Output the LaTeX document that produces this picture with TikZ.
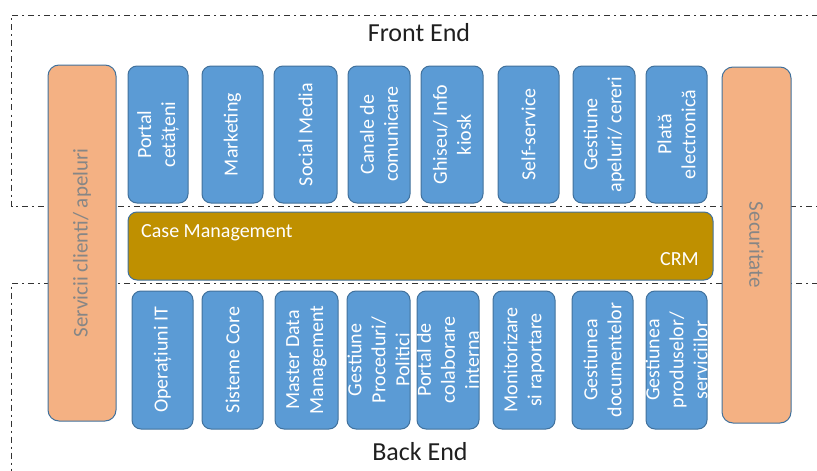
\documentclass[tikz,border=0pt]{standalone}
\usepackage{fontspec}
\setmainfont{Carlito}
\definecolor{bfill}{HTML}{5B9BD5}
\definecolor{bline}{HTML}{41719C}
\definecolor{ofill}{HTML}{F4B183}
\definecolor{crmfill}{HTML}{BF9000}
\definecolor{otext}{HTML}{868686}
\definecolor{ttext}{HTML}{1F1F1F}
\tikzset{
  bluebox/.style={draw=bline, fill=bfill, line width=1pt, rounded corners=9pt, inner sep=0pt},
  orangebox/.style={draw=bline, fill=ofill, line width=1pt, rounded corners=11pt, inner sep=0pt},
  crmbox/.style={draw=bline, fill=crmfill, line width=1pt, rounded corners=9pt, inner sep=0pt},
  bluebox text/.style={text=white, align=center, inner sep=0pt, font=\fontsize{20}{24}\selectfont},
  orangebox text/.style={text=otext, align=center, inner sep=0pt, font=\fontsize{21}{25}\selectfont},
  title/.style={text=ttext, inner sep=0pt, font=\fontsize{26}{30}\selectfont},
  zone/.style={line width=1pt, draw=black!80, dash pattern=on 6pt off 4pt on 2pt off 4pt},
}
% name, x1, y1, x2, y2, style, rotation, text
\newcommand{\mybox}[8]{%
  \node[#6, minimum width={(#4)-(#2)}, minimum height={(#5)-(#3)}] (#1) at ({((#2)+(#4))/2},{((#3)+(#5))/2}) {};
  \node[#6 text, rotate=#7] (#1t) at (#1.center) {#8};
}
\begin{document}
\begin{tikzpicture}[x=1pt,y=-1pt]
\useasboundingbox (0,0) rectangle (817,471);
% zones
\draw[zone] (818,15) -- (11.5,15) -- (11.5,206) -- (818,206);
\draw[zone] (818,283) -- (11.5,283) -- (11.5,472);
\node[title] (front) at (419,33) {Front End};
\node[title] (back) at (420,452) {Back End};
% side boxes
\mybox{serv}{48}{65}{116}{421}{orangebox}{90}{Servicii clienti/ apeluri}
\mybox{sec}{722}{67}{791}{423}{orangebox}{-90}{Securitate}
% top row
\mybox{t1}{128}{66}{188}{203}{bluebox}{90}{Portal\\cetățeni}
\mybox{t2}{202}{66}{263}{203}{bluebox}{90}{Marketing}
\mybox{t3}{274}{66}{337}{203}{bluebox}{90}{Social Media}
\mybox{t4}{348}{66}{410}{203}{bluebox}{90}{Canale de\\comunicare}
\mybox{t5}{421}{66}{483}{203}{bluebox}{90}{Ghiseu/ Info\\kiosk}
\mybox{t6}{498}{66}{559}{203}{bluebox}{90}{Self-service}
\mybox{t7}{573}{66}{635}{203}{bluebox}{90}{Gestiune\\apeluri/ cereri}
\mybox{t8}{646}{66}{707}{203}{bluebox}{90}{Plată\\electronică}
% CRM
\node[crmbox, minimum width=585, minimum height=68] (crm) at (420.5,246) {};
\node[text=white, inner sep=0pt, anchor=west, font=\fontsize{20}{24}\selectfont] (cm) at (141,233) {Case Management};
\node[text=white, inner sep=0pt, anchor=east, font=\fontsize{20}{24}\selectfont] (crmt) at (699,259) {CRM};
% bottom row
\mybox{b1}{132}{291}{193}{429}{bluebox}{90}{Operațiuni IT}
\mybox{b2}{202}{291}{263}{429}{bluebox}{90}{Sisteme Core}
\mybox{b3}{275}{291}{338}{429}{bluebox}{90}{Master Data\\Management}
\mybox{b4}{347}{291}{410}{429}{bluebox}{90}{Gestiune\\Proceduri/\\Politici}
\mybox{b5}{417}{291}{479}{429}{bluebox}{90}{Portal de\\colaborare\\interna}
\mybox{b6}{493}{291}{555}{429}{bluebox}{90}{Monitorizare\\si raportare}
\mybox{b7}{572}{291}{633}{429}{bluebox}{90}{Gestiunea\\documentelor}
\mybox{b8}{646}{291}{707}{429}{bluebox}{90}{Gestiunea\\produselor/\\serviciilor}
\end{tikzpicture}
\end{document}
